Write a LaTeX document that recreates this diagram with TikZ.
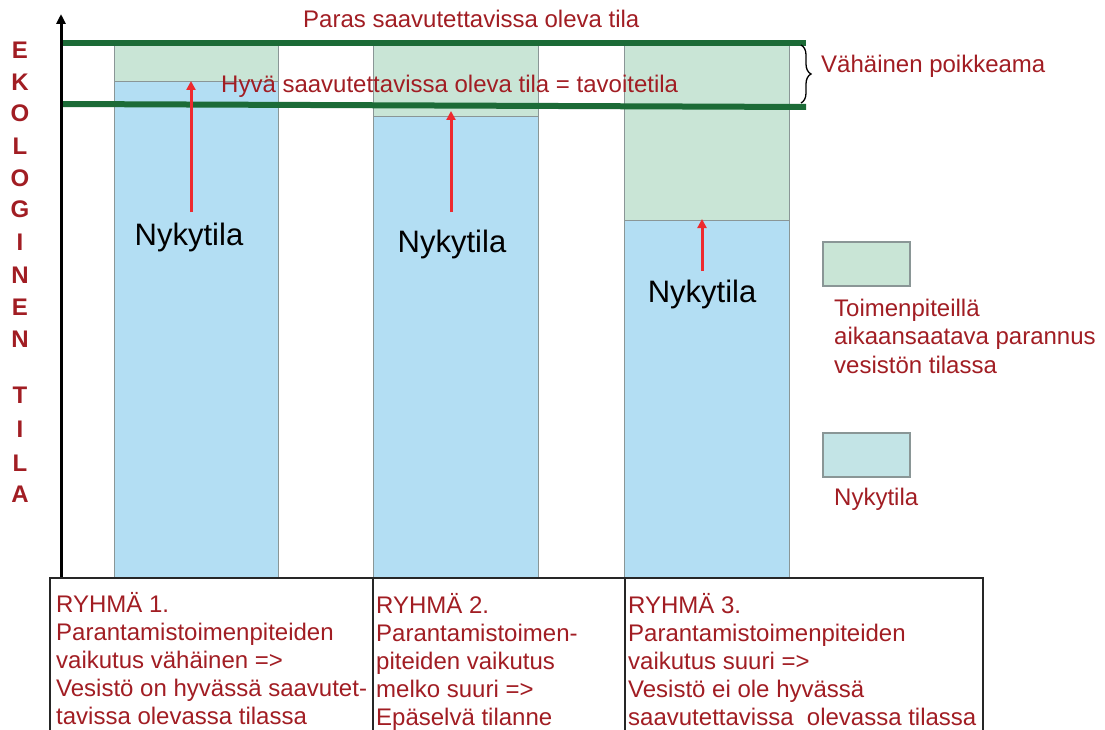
\documentclass[tikz,border=0pt]{standalone}
\usepackage{fontspec}
\setmainfont{Liberation Sans}
\usetikzlibrary{arrows.meta,decorations.pathreplacing}
\definecolor{txtred}{HTML}{A11D23}
\definecolor{lgreen}{HTML}{C9E5D6}
\definecolor{lblue}{HTML}{B3DEF3}
\definecolor{legblue}{HTML}{C3E4E6}
\definecolor{dgreen}{HTML}{1C6B37}
\definecolor{barline}{HTML}{8A9696}
\definecolor{arrred}{HTML}{EE2A2E}
\begin{document}
\begin{tikzpicture}[x=1pt,y=-1pt,
  txt/.style={text=txtred,inner sep=0pt,font=\fontsize{24}{28}\selectfont},
  boxtxt/.style={txt,align=left,anchor=north west},
  legtxt/.style={text=txtred,inner sep=0pt,align=left,anchor=north west,font=\fontsize{24}{28.7}\selectfont},
  vlet/.style={text=txtred,inner sep=0pt,font=\fontsize{24}{24}\selectfont\bfseries},
  nyk/.style={text=black,inner sep=0pt,anchor=base,font=\fontsize{31}{31}\selectfont},
  baredge/.style={draw=barline,line width=1pt},
  glevel/.style={draw=dgreen,line width=6pt},
  rarrow/.style={draw=arrred,line width=3pt,-{Triangle[length=9pt,width=9pt]}},
  grpbox/.style={draw=black!85,line width=1.5pt}
]
\useasboundingbox (0,0) rectangle (1105,730);
\clip (0,0) rectangle (1105,730);

% bars
\fill[lgreen] (114,43) rectangle (278,82);
\fill[lblue] (114,82) rectangle (278,578);
\draw[baredge] (114,43) rectangle (278,578);
\draw[baredge] (114,82) -- (278,82);

\fill[lgreen] (373,43) rectangle (538,117);
\fill[lblue] (373,117) rectangle (538,578);
\draw[baredge] (373,43) rectangle (538,578);
\draw[baredge] (373,117) -- (538,117);

\fill[lgreen] (624,43) rectangle (789,220);
\fill[lblue] (624,220) rectangle (789,578);
\draw[baredge] (624,43) rectangle (789,578);
\draw[baredge] (624,220) -- (789,220);

% green level lines
\draw[glevel] (62,43) -- (806,43);
\draw[glevel] (62,104) -- (806,107);

% axis
\coordinate (ax0) at (61,578);
\coordinate (ax1) at (61,14);
\draw[line width=3pt,-{Triangle[length=10pt,width=9pt]}] (ax0) -- (ax1);

% brace
\coordinate (br0) at (801,45);
\coordinate (br1) at (801,103);
\draw[decorate,decoration={brace,amplitude=10pt},line width=1.3pt] (br0) -- (br1);

% labels at top
\node[txt,anchor=base west] (paras) at (303,28) {Paras saavutettavissa oleva tila};
\node[txt,anchor=base west] (hyva) at (221,93) {Hyvä saavutettavissa oleva tila = tavoitetila};
\node[txt,anchor=base west] (vah) at (821,73) {Vähäinen poikkeama};

% Nykytila labels and arrows
\node[nyk] (n1) at (189,245) {Nykytila};
\node[nyk] (n2) at (452,252) {Nykytila};
\node[nyk] (n3) at (702,302) {Nykytila};
\coordinate (a1s) at (191,212);
\coordinate (a1e) at (191,81);
\coordinate (a2s) at (451,212);
\coordinate (a2e) at (451,111);
\coordinate (a3s) at (702,271);
\coordinate (a3e) at (702,219);
\draw[rarrow] (a1s) -- (a1e);
\draw[rarrow] (a2s) -- (a2e);
\draw[rarrow] (a3s) -- (a3e);

% legend
\draw[draw=barline,line width=1.2pt,fill=lgreen] (823,242) rectangle (910,286);
\node[legtxt] (leg1) at (834,292) {\rule{0pt}{24pt}Toimenpiteillä\\aikaansaatava parannus\\vesistön tilassa};
\draw[draw=barline,line width=1.2pt,fill=legblue] (823,433) rectangle (910,477);
\node[txt,anchor=base west] (leg2) at (834,505) {Nykytila};

% vertical axis title
\foreach \l/\yy [count=\i] in {E/50,K/82,O/113,L/146,O/178,G/209,I/242,N/275,E/307,N/339,T/395,I/429,L/463,A/494}
  \node[vlet] (v\i) at (20,\yy) {\l};

% group boxes
\draw[grpbox] (50,578) rectangle (373,745);
\draw[grpbox] (373,578) rectangle (625,745);
\draw[grpbox] (625,578) rectangle (983,745);
\node[boxtxt] (g1) at (56,588) {\rule{0pt}{24pt}RYHMÄ 1.\\Parantamistoimenpiteiden\\vaikutus vähäinen =>\\Vesistö on hyvässä saavutet-\\tavissa olevassa tilassa};
\node[boxtxt] (g2) at (376,589) {\rule{0pt}{24pt}RYHMÄ 2.\\Parantamistoimen-\\piteiden vaikutus\\melko suuri =>\\Epäselvä tilanne};
\node[boxtxt] (g3) at (628,589) {\rule{0pt}{24pt}RYHMÄ 3.\\Parantamistoimenpiteiden\\vaikutus suuri =>\\Vesistö ei ole hyvässä\\saavutettavissa\ \ olevassa tilassa};
\end{tikzpicture}
\end{document}
